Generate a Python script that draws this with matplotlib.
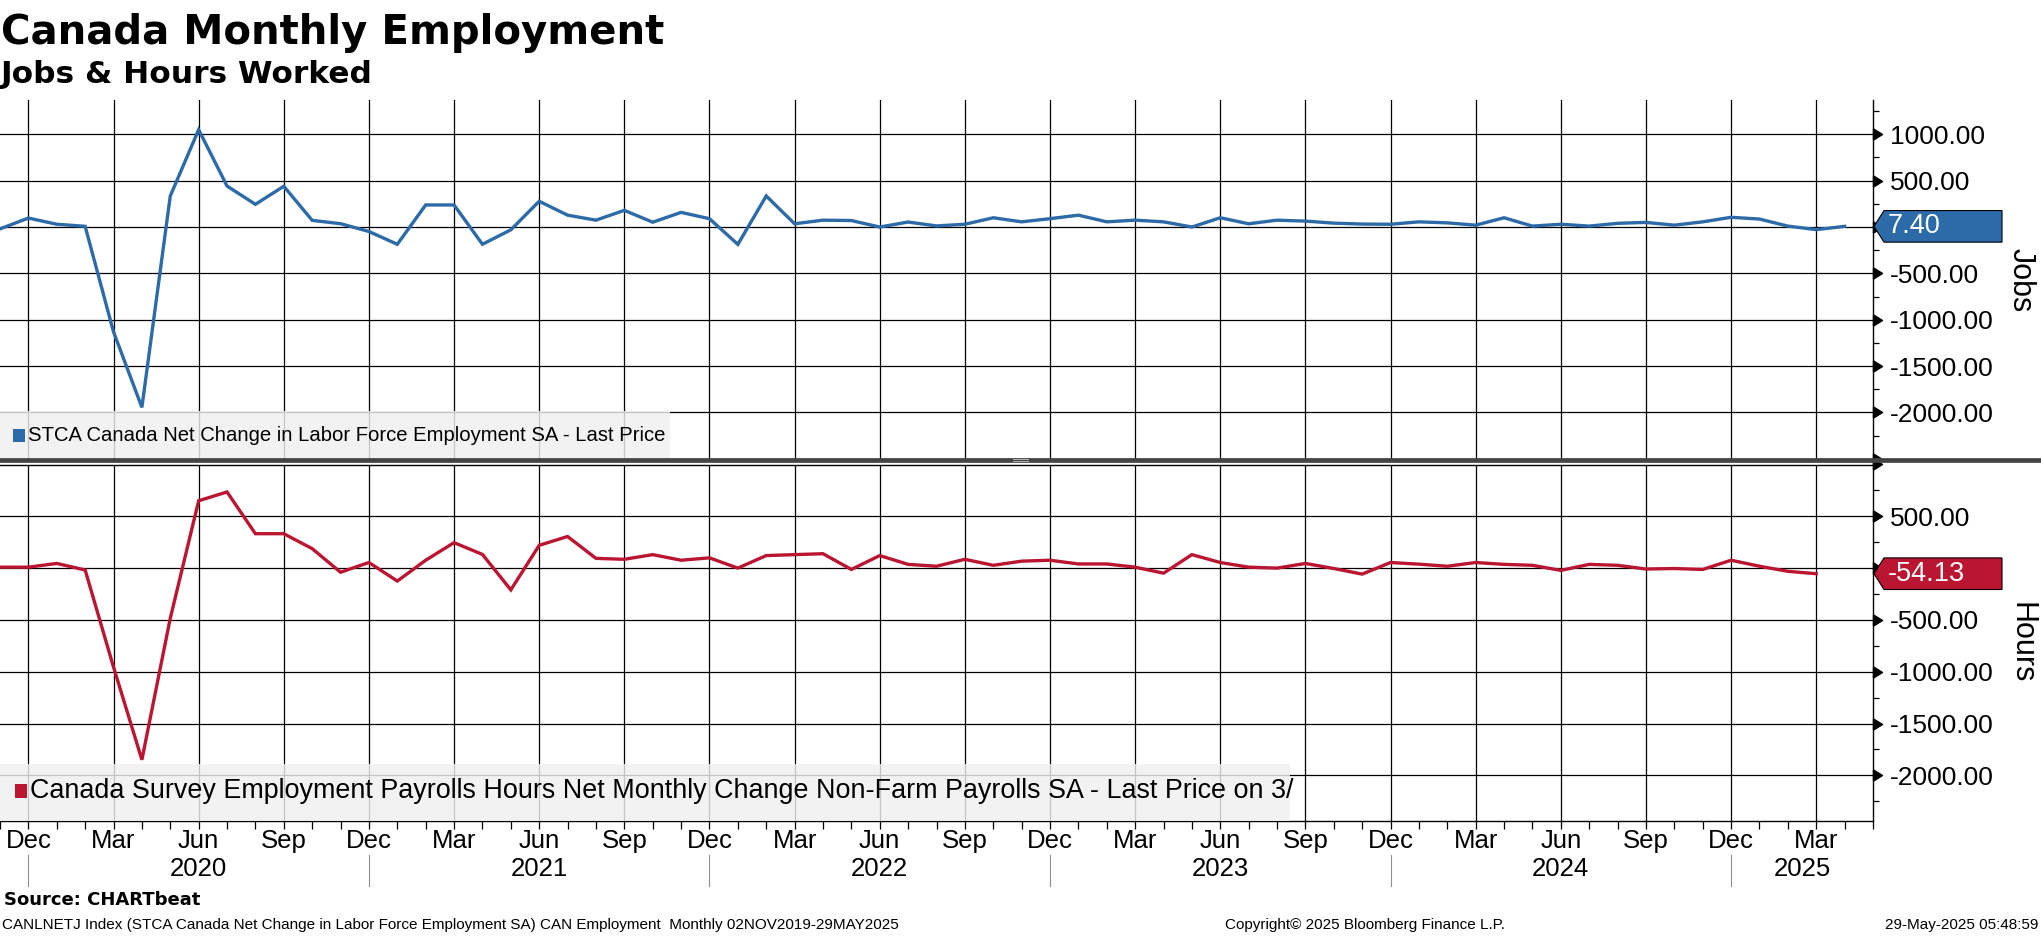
import numpy as np
import pandas as pd
import matplotlib
matplotlib.use("Agg")
import matplotlib.pyplot as plt
import matplotlib.transforms as mtransforms
from matplotlib.patches import Polygon, Rectangle
from matplotlib.path import Path
from matplotlib.ticker import MultipleLocator

plt.rcParams["font.family"] = ["Liberation Sans", "DejaVu Sans"]

# ---- data (thousands), monthly from Nov 2019 ----
months = pd.period_range("2019-11", "2025-05", freq="M")

jobs = [-20, 97, 30, 8, -1130, -1945, 335, 1050, 442, 245,
        440, 72, 36, -48, -186, 238, 238, -186, -30, 278,
        128, 74, 180, 52, 158, 90, -187, 335, 35, 74,
        70, 0, 54, 12, 30, 100, 56, 90, 128, 56,
        74, 56, 0, 100, 35, 74, 64, 42, 32, 30,
        56, 45, 20, 100, 10, 30, 10, 40, 50, 20,
        56, 105, 86, 10, -28, 7.40]

hours = [9, 9, 45, -18, -955, -1850, -484, 650, 735, 332,
         332, 188, -40, 54, -125, 76, 246, 132, -210, 220,
         305, 94, 85, 130, 76, 99, 0, 121, 130, 139,
         -13, 121, 36, 18, 85, 27, 67, 76, 40, 40,
         9, -49, 130, 54, 9, 0, 45, -4, -58, 54,
         38, 18, 54, 36, 27, -22, 36, 27, -9, -4,
         -13, 76, 18, -31, -54.13]

jobs_label = "STCA Canada Net Change in Labor Force Employment SA - Last Price"
hours_label = ("Canada Survey Employment Payrolls Hours Net Monthly Change "
               "Non-Farm Payrolls SA - Last Price on 3/")

BLUE = "#2c6aa8"
RED = "#bb1631"

W, H, DPI = 2041, 936, 100


def fx(px):
    return px / W


def fy(py):
    return 1 - py / H


fig = plt.figure(figsize=(W / DPI, H / DPI), dpi=DPI)

ax1 = fig.add_axes([0, fy(462), 1873 / W, (462 - 100) / H])
ax2 = fig.add_axes([0, fy(821), 1873 / W, (821 - 464.5) / H])

ax1.set_ylim(-2534, 1370)
ax2.set_ylim(-2441, 1000)

quarters = [i for i, m in enumerate(months) if m.month in (3, 6, 9, 12)]
tri = Path([(0, -0.62), (0, 0.62), (1, 0), (0, -0.62)],
           [Path.MOVETO, Path.LINETO, Path.LINETO, Path.CLOSEPOLY])

for ax, series, color in [(ax1, jobs, BLUE), (ax2, hours, RED)]:
    x = np.arange(len(series))
    ax.plot(x, series, color=color, lw=2.4, zorder=4, solid_joinstyle="miter")
    ax.set_xlim(0, 66)
    ax.set_xticks(quarters)
    ax.xaxis.set_minor_locator(MultipleLocator(1))
    ax.set_xticklabels([])
    ax.grid(True, which="major", color="black", lw=0.9, zorder=1)
    ax.set_axisbelow(True)

    lo, hi = ax.get_ylim()
    yt = [v for v in range(-2500, 1001, 500) if lo - 1 <= v <= hi + 1]
    labels = []
    for v in yt:
        visible = (v != 0) and (v > lo + 100) and (v < hi - 100)
        labels.append(f"{v:.2f}" if visible else "")
    ax.yaxis.tick_right()
    ax.set_yticks(yt)
    ax.set_yticklabels(labels)
    ax.yaxis.set_minor_locator(MultipleLocator(250))
    ax.tick_params(axis="y", which="major", length=0, pad=12, labelsize=19)
    ax.tick_params(axis="y", which="minor", length=4, width=0.9,
                   direction="out", color="black")
    ax.plot(np.ones(len(yt)), yt, transform=ax.get_yaxis_transform(),
            marker=tri, ms=13, color="black", ls="none", clip_on=False,
            zorder=6)
    ax.spines["left"].set_visible(False)
    ax.spines["right"].set_linewidth(1.0)

ax1.spines["top"].set_visible(False)
ax1.spines["bottom"].set_visible(False)
ax1.tick_params(axis="x", which="both", length=0)
ax2.spines["top"].set_linewidth(1.0)
ax2.spines["bottom"].set_linewidth(1.0)
ax2.tick_params(axis="x", which="both", length=6, width=0.9, direction="out")


# legend boxes
def legend_box(ax, px_width, top_frac, text, color, size, sq):
    ax.add_patch(Rectangle((0, 0), px_width / 1873, top_frac,
                           transform=ax.transAxes, facecolor="#f0f0f0",
                           edgecolor="none", alpha=0.82, zorder=3))
    ymid = top_frac * 0.52
    ax.add_patch(Rectangle((sq[0] / 1873, ymid - sq[2] / 2), sq[1] / 1873, sq[2],
                           transform=ax.transAxes, facecolor=color,
                           edgecolor="none", zorder=5))
    ax.text((sq[0] + sq[1] + 3) / 1873, ymid, text, transform=ax.transAxes,
            fontsize=size, va="center", ha="left", zorder=5)


legend_box(ax1, 670, 0.141, jobs_label, BLUE, 14.6, (13, 12, 0.034))
legend_box(ax2, 1290, 0.161, hours_label, RED, 19.4, (15, 12, 0.038))

# separator between panels
fig.add_artist(plt.Line2D([0, 1], [fy(460), fy(460)], transform=fig.transFigure,
                          color="#444444", lw=3.4, zorder=10))
for yy in (459.3, 461.0):
    fig.add_artist(plt.Line2D([fx(1013), fx(1028)], [fy(yy), fy(yy)],
                              transform=fig.transFigure, color="#b0b0b0",
                              lw=0.7, zorder=11))


# last value tags
def tag(ax, value, color, text):
    yd = ax.transData.transform((0, value))[1]
    xd = 1873
    h = 15.8
    verts = [(xd + 1, yd), (xd + 11, yd + h), (2002, yd + h),
             (2002, yd - h), (xd + 11, yd - h)]
    fig.add_artist(Polygon(verts, closed=True, transform=mtransforms.IdentityTransform(),
                           facecolor=color, edgecolor="black", lw=0.8, zorder=12))
    fig.text(fx(1888), yd / H, text, color="white", fontsize=19.5,
             va="center", ha="left", zorder=13)


tag(ax1, jobs[-1], BLUE, f"{jobs[-1]:.2f}")
tag(ax2, hours[-1], RED, f"{hours[-1]:.2f}")

fig.text(fx(2021), fy(280), "Jobs", rotation=-90, fontsize=22,
         ha="center", va="center")
fig.text(fx(2021), fy(643), "Hours", rotation=-90, fontsize=22,
         ha="center", va="center")

# x labels: months and years
bt = mtransforms.blended_transform_factory(ax2.transData, fig.transFigure)
for i in quarters:
    ax2.text(i, fy(841), months[i].strftime("%b"), transform=bt,
             ha="center", va="center", fontsize=18.5)

decs = [i for i, m in enumerate(months) if m.month == 12]
for d in decs:
    ax2.plot([d, d], [fy(855), fy(886)], transform=bt, color="#909090",
             lw=0.8, clip_on=False)
bounds = decs + [66]
for k in range(len(bounds) - 1):
    left, right = bounds[k], min(bounds[k + 1], 66)
    yr = months[bounds[k]].year + 1
    ax2.text((left + right) / 2, fy(869), str(yr), transform=bt,
             ha="center", va="center", fontsize=18.5)

# titles and footer
fig.text(fx(1), fy(44), "Canada Monthly Employment", fontsize=29,
         fontweight="bold", family="DejaVu Sans", va="baseline")
fig.text(fx(1), fy(83), "Jobs & Hours Worked", fontsize=22.5,
         fontweight="bold", family="DejaVu Sans", va="baseline")
fig.text(fx(4), fy(900), "Source: CHARTbeat", fontsize=13,
         fontweight="bold", family="DejaVu Sans", va="center")
fig.text(fx(2), fy(925), "CANLNETJ Index (STCA Canada Net Change in Labor Force "
         "Employment SA) CAN Employment  Monthly 02NOV2019-29MAY2025",
         fontsize=11, va="center")
fig.text(fx(1365), fy(925), "Copyright\u00a9 2025 Bloomberg Finance L.P.",
         fontsize=11, va="center", ha="center")
fig.text(fx(2038), fy(925), "29-May-2025 05:48:59", fontsize=11,
         va="center", ha="right")

fig.savefig("out.png", dpi=DPI)
